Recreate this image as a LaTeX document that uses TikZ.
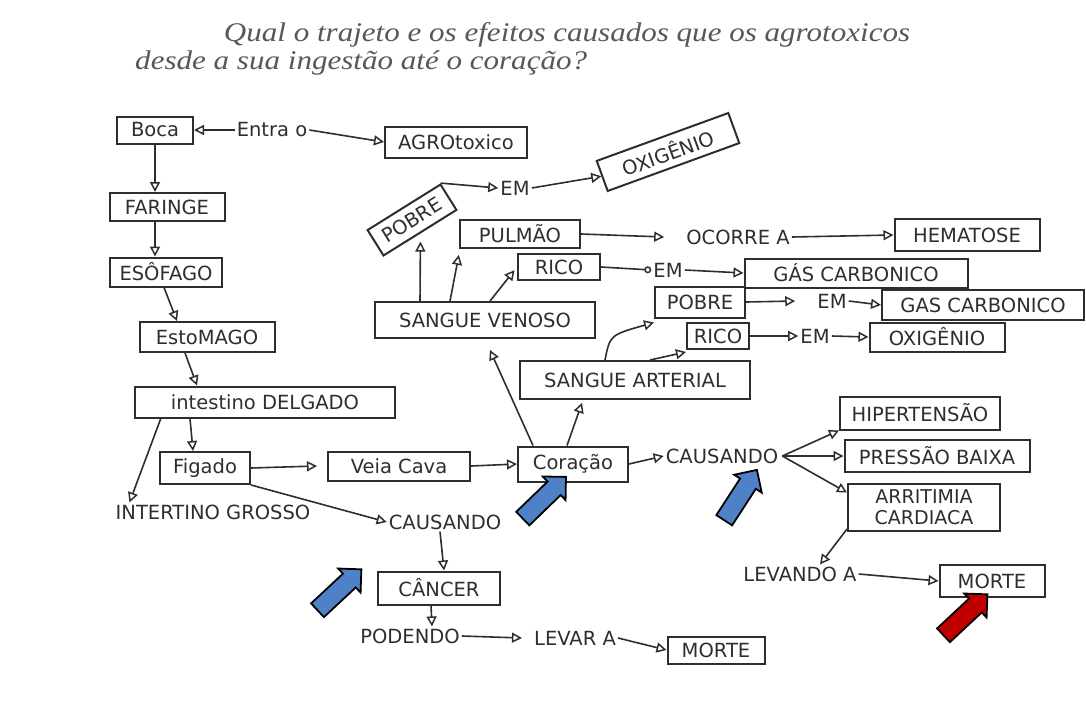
\documentclass[tikz,border=0pt]{standalone}
\usepackage{fontspec}
\setmainfont{DejaVu Sans}
\newfontfamily\ttlfont{Liberation Serif}
\usetikzlibrary{arrows.meta,shapes.arrows}
\newcommand\hwfont{\fontsize{19.5}{22}\selectfont}
\definecolor{pencil}{HTML}{2E2E2E}
\definecolor{blk}{HTML}{4F81C7}
\definecolor{rdk}{HTML}{C00000}
\begin{document}
\begin{tikzpicture}[x=1pt,y=-1pt,
  box/.style={draw=pencil, line width=2pt, inner sep=1pt, font=\hwfont, text=pencil, align=center},
  lbl/.style={font=\hwfont, text=pencil, inner sep=2pt},
  con/.style={draw=pencil, line width=1.6pt, -{Triangle[open,length=10pt,width=10pt,line width=1.5pt]}},
  ccon/.style={draw=pencil, line width=1.6pt, -{Circle[open,length=7pt,width=7pt,line width=1.5pt]}},
  title/.style={font=\ttlfont\itshape\fontsize{27}{30}\selectfont, text=pencil!80, inner sep=0pt},
  bigarrow/.style={shape=single arrow, draw=black, line width=1.8pt, inner sep=8.5pt,
    minimum height=60pt, single arrow head extend=7pt, single arrow head indent=0pt},
]
\useasboundingbox (0,0) rectangle (1086,707);
\fill[white] (0,0) rectangle (1086,707);

% title
\node[title, xscale=1.15] (t1) at (567,35) {Qual o trajeto e os efeitos causados que os agrotoxicos};
\node[title, xscale=1.15, anchor=west] (t2) at (135,63) {desde a sua ingestão até o coração?};

% digestive path
\node[box, minimum width=76, minimum height=27] (boca) at (155,130) {Boca};
\node[lbl] (entra) at (272,130) {Entra o};
\node[box, minimum width=142, minimum height=31] (agro) at (456,142) {AGROtoxico};
\node[box, minimum width=115, minimum height=28] (faringe) at (167,207) {FARINGE};
\node[box, minimum width=112, minimum height=29] (esofago) at (166,272) {ESÔFAGO};
\node[box, minimum width=135, minimum height=30] (estomago) at (207,337) {EstoMAGO};
\node[box, minimum width=260, minimum height=31] (intestino) at (265,402) {intestino DELGADO};
\node[lbl] (grosso) at (213,512) {INTERTINO GROSSO};
\node[box, minimum width=90, minimum height=32] (figado) at (205,468) {Figado};
\node[box, minimum width=142, minimum height=29] (veia) at (399,466) {Veia Cava};
\node[box, minimum width=110, minimum height=35] (coracao) at (573,464) {Coração};

% lower left branch
\node[lbl] (caus1) at (445,522) {CAUSANDO};
\node[box, minimum width=122, minimum height=33] (cancer) at (439,588) {CÂNCER};
\node[lbl] (podendo) at (410,636) {PODENDO};
\node[lbl] (levar) at (575,638) {LEVAR A};
\node[box, minimum width=97, minimum height=27] (morte1) at (716,650) {MORTE};

% right branch
\node[lbl] (caus2) at (722,456) {CAUSANDO};
\node[box, minimum width=160, minimum height=33] (hiper) at (920,413) {HIPERTENSÃO};
\node[box, minimum width=185, minimum height=32] (pressao) at (937,456) {PRESSÃO BAIXA};
\node[box, minimum width=152, minimum height=47, font=\fontsize{19}{21}\selectfont] (arrit) at (924,507) {ARRITIMIA\\CARDIACA};
\node[lbl] (levando) at (800,574) {LEVANDO A};
\node[box, minimum width=105, minimum height=32] (morte2) at (992,581) {MORTE};

% blood
\node[box, minimum width=220, minimum height=36] (venoso) at (485,320) {SANGUE VENOSO};
\node[box, minimum width=230, minimum height=38] (arterial) at (635,380) {SANGUE ARTERIAL};

\node[box, minimum width=86, minimum height=30, rotate=32] (pobre1) at (412,220) {POBRE};
\node[lbl] (em1) at (515,188) {EM};
\node[box, minimum width=140, minimum height=32, rotate=20] (oxi1) at (668,152) {OXIGÊNIO};
\node[box, minimum width=120, minimum height=28] (pulmao) at (520,234) {PULMÃO};
\node[lbl] (ocorre) at (738,237) {OCORRE A};
\node[box, minimum width=145, minimum height=32] (hematose) at (967,235) {HEMATOSE};
\node[box, minimum width=82, minimum height=26] (rico1) at (559,267) {RICO};
\node[lbl] (em2) at (668,270) {EM};
\node[box, minimum width=223, minimum height=29] (gas1) at (856,273) {GÁS CARBONICO};

\node[box, minimum width=90, minimum height=31] (pobre2) at (700,302) {POBRE};
\node[lbl] (em3) at (832,301) {EM};
\node[box, minimum width=202, minimum height=30] (gas2) at (983,305) {GAS CARBONICO};
\node[box, minimum width=62, minimum height=26] (rico2) at (718,336) {RICO};
\node[lbl] (em4) at (815,336) {EM};
\node[box, minimum width=135, minimum height=29] (oxi2) at (937,337) {OXIGÊNIO};

% connectors: digestive path
\draw[con] (entra.west) -- (boca.east);
\draw[con] (entra.east) -- (agro.west);
\draw[con] (boca.south) -- (faringe.north -| boca.south);
\draw[con] (faringe.south -| boca.south) -- (esofago.north -| boca.south);
\draw[con] ([xshift=-2pt]esofago.south) -- ([xshift=-30pt]estomago.north);
\draw[con] ([xshift=-22pt]estomago.south) -- ([xshift=-68pt]intestino.north);
\draw[con] ([xshift=-75pt]intestino.south) -- ([xshift=-12pt]figado.north);
\draw[con] (intestino.189) -- ([xshift=16pt]grosso.north west);
\draw[con] (figado.east) -- ([xshift=-10pt]veia.west);
\draw[con] (veia.east) -- (coracao.west);
\draw[con] (figado.south east) -- (caus1.west);
\draw[con] ([xshift=-5pt]caus1.south) -- ([xshift=5pt]cancer.north);
\draw[con] ([xshift=-8pt]cancer.south) -- ([xshift=22pt]podendo.north);
\draw[con] (podendo.east) -- ([xshift=-10pt]levar.west);
\draw[con] (levar.east) -- (morte1.west);

% coração outputs
\draw[con, shorten >=12pt] ([xshift=-40pt]coracao.north) -- (venoso.south);
\draw[con, shorten >=3pt] ([xshift=-6pt]coracao.north) -- ([xshift=-52pt]arterial.south);
\draw[con] (coracao.east) -- (caus2.west);
\coordinate (cs) at ([xshift=2pt]caus2.east);
\draw[con] (cs) -- (hiper.south west);
\draw[con] (cs) -- (pressao.west);
\draw[con] (cs) -- ([yshift=-10pt]arrit.north west);
\draw[con] ([yshift=-22pt]arrit.west) -- ([xshift=20pt]levando.north);
\draw[con] (levando.east) -- (morte2.west);

% sangue venoso
\draw[con, shorten >=8pt] ([xshift=-65pt]venoso.north) -- (pobre1.south);
\draw[con, shorten >=6pt] ([xshift=-35pt]venoso.north) -- ([xshift=-60pt]pulmao.south);
\draw[con, shorten >=4pt] ([xshift=5pt]venoso.north) -- (rico1.west);
\draw[con] (pobre1.north east) -- (em1.west);
\draw[con] (em1.east) -- (oxi1.west);
\draw[con] (pulmao.east) -- ([xshift=-20pt]ocorre.west);
\draw[con] (ocorre.east) -- (hematose.west);
\draw[ccon] (rico1.east) -- (em2.west);
\draw[con] (em2.east) -- (gas1.west);

% sangue arterial
\draw[con] ([xshift=-30pt]arterial.north) .. controls (610,335) .. ([yshift=-4pt]pobre2.south west);
\draw[con] ([xshift=15pt]arterial.north) -- ([yshift=-2pt]rico2.south west);
\draw[con] (pobre2.east) -- ([xshift=-20pt]em3.west);
\draw[con] (em3.east) -- (gas2.west);
\draw[con] (rico2.east) -- (em4.west);
\draw[con] (em4.east) -- (oxi2.west);

% highlight arrows
\node[bigarrow, fill=blk, rotate=43] (ba1) at (336,593) {};
\node[bigarrow, fill=blk, rotate=44] (ba2) at (541,501) {};
\node[bigarrow, fill=blk, rotate=57] (ba3) at (738,499) {};
\node[bigarrow, fill=rdk, rotate=43] (ra1) at (962,618) {};
\end{tikzpicture}
\end{document}
